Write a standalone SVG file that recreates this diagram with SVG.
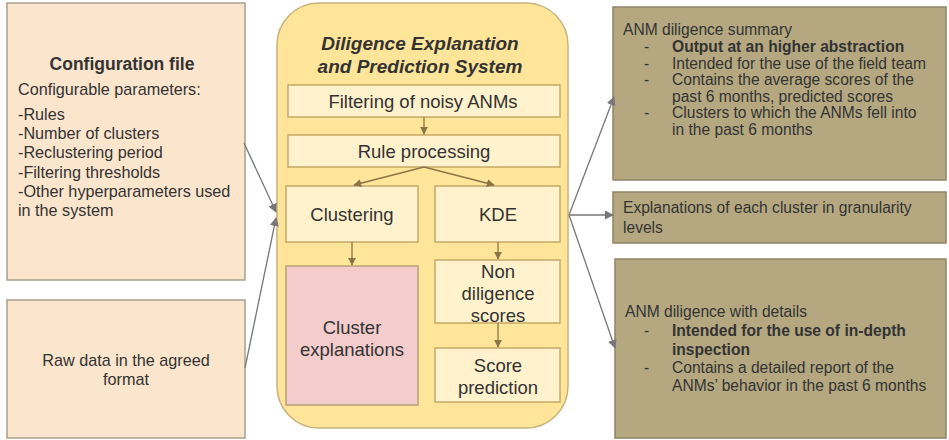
<svg xmlns="http://www.w3.org/2000/svg" width="949" height="440" viewBox="0 0 949 440">
<defs>
<style>
text{font-family:"Liberation Sans",Arial,sans-serif;fill:#333;}
.in{fill:#fce5cd;stroke:#a8a08c;stroke-width:1.5;}
.sys{fill:#ffe599;stroke:#c9b27a;stroke-width:1.5;}
.step{fill:#fff2cc;stroke:#c8a868;stroke-width:1.5;}
.pink{fill:#f4cccc;stroke:#b8a07a;stroke-width:1.5;}
.out{fill:#b5a880;stroke:#8e8466;stroke-width:1.5;}
.tc{font-size:18.5px;}
.tt{font-size:19px;font-weight:bold;font-style:italic;}
.tl{font-size:16.2px;}
.th{font-size:17.5px;font-weight:bold;}
.tr{font-size:15.6px;}
.b{font-weight:bold;}
.c{text-anchor:middle;}
.ca{stroke:#8a7448;stroke-width:1.3;fill:none;marker-end:url(#ah1);}
.oa{stroke:#777;stroke-width:1.3;fill:none;marker-end:url(#ah2);}
</style>
<marker id="ah1" viewBox="0 0 10 10" refX="9" refY="5" markerWidth="8" markerHeight="8" markerUnits="userSpaceOnUse" orient="auto"><path d="M0,0 L10,5 L0,10 z" fill="#8a7448"/></marker>
<marker id="ah2" viewBox="0 0 10 10" refX="9" refY="5" markerWidth="9" markerHeight="9" markerUnits="userSpaceOnUse" orient="auto"><path d="M0,0 L10,5 L0,10 z" fill="#777"/></marker>
</defs>
<rect width="949" height="440" fill="#fff"/>

<g id="config">
<rect class="in" x="7" y="3" width="238" height="277"/>
<text class="th c" x="122" y="70">Configuration file</text>
<text class="tl" x="18" y="95">Configurable parameters:</text>
<text class="tl" x="18" y="120">-Rules</text>
<text class="tl" x="18" y="139">-Number of clusters</text>
<text class="tl" x="18" y="158">-Reclustering period</text>
<text class="tl" x="18" y="178">-Filtering thresholds</text>
<text class="tl" x="18" y="197">-Other hyperparameters used</text>
<text class="tl" x="18" y="216">in the system</text>
</g>

<g id="rawdata">
<rect class="in" x="7" y="300" width="238" height="138"/>
<text class="tl c" x="126" y="366">Raw data in the agreed</text>
<text class="tl c" x="126" y="385">format</text>
</g>

<g id="system">
<rect class="sys" x="277" y="3" width="291" height="425" rx="42"/>
<text class="tt c" x="420" y="50">Diligence Explanation</text>
<text class="tt c" x="420" y="73">and Prediction System</text>
</g>

<g id="filtering">
<rect class="step" x="288" y="85" width="272" height="32"/>
<text class="tc c" x="423" y="108">Filtering of noisy ANMs</text>
</g>
<g id="rule">
<rect class="step" x="288" y="135" width="272" height="32"/>
<text class="tc c" x="424" y="158">Rule processing</text>
</g>
<g id="clustering">
<rect class="step" x="286" y="186" width="132" height="56"/>
<text class="tc c" x="352" y="221">Clustering</text>
</g>
<g id="kde">
<rect class="step" x="435" y="186" width="125" height="56"/>
<text class="tc c" x="498" y="221">KDE</text>
</g>
<g id="clusterexp">
<rect class="pink" x="286" y="266" width="132" height="139"/>
<text class="tc c" x="352" y="334">Cluster</text>
<text class="tc c" x="352" y="356">explanations</text>
</g>
<g id="nondiligence">
<rect class="step" x="435" y="260" width="125" height="63"/>
<text class="tc c" x="498" y="278">Non</text>
<text class="tc c" x="498" y="300">diligence</text>
<text class="tc c" x="498" y="322">scores</text>
</g>
<g id="scorepred">
<rect class="step" x="435" y="348" width="125" height="54"/>
<text class="tc c" x="498" y="372">Score</text>
<text class="tc c" x="498" y="394">prediction</text>
</g>

<g id="summary">
<rect class="out" x="613" y="7" width="333" height="173"/>
<text class="tr" x="623" y="35">ANM diligence summary</text>
<text class="tr" x="644" y="52">-</text><text class="tr b" x="672" y="52">Output at an higher abstraction</text>
<text class="tr" x="644" y="68.5">-</text><text class="tr" x="672" y="68.5">Intended for the use of the field team</text>
<text class="tr" x="644" y="85">-</text><text class="tr" x="672" y="85">Contains the average scores of the</text>
<text class="tr" x="672" y="101.5">past 6 months, predicted scores</text>
<text class="tr" x="644" y="118">-</text><text class="tr" x="672" y="118">Clusters to which  the ANMs fell into</text>
<text class="tr" x="672" y="134.5">in the past 6 months</text>
</g>

<g id="explanations">
<rect class="out" x="613" y="192" width="333" height="51"/>
<text class="tr" x="623" y="213">Explanations of each cluster in granularity</text>
<text class="tr" x="623" y="233">levels</text>
</g>

<g id="details">
<rect class="out" x="615" y="259" width="331" height="179"/>
<text class="tr" x="625" y="317">ANM diligence with details</text>
<text class="tr" x="644" y="336">-</text><text class="tr b" x="672" y="336">Intended for the use of in-depth</text>
<text class="tr b" x="672" y="355">inspection</text>
<text class="tr" x="644" y="373">-</text><text class="tr" x="672" y="373">Contains a detailed report of the</text>
<text class="tr" x="672" y="391">ANMs’ behavior in the past 6 months</text>
</g>

<g id="connectors">
<line class="ca" x1="424" y1="117" x2="424" y2="134"/>
<line class="ca" x1="424" y1="167" x2="354" y2="185"/>
<line class="ca" x1="424" y1="167" x2="494" y2="185"/>
<line class="ca" x1="352" y1="242" x2="352" y2="265"/>
<line class="ca" x1="498" y1="242" x2="498" y2="259"/>
<line class="ca" x1="498" y1="323" x2="498" y2="347"/>
<line class="oa" x1="244" y1="143" x2="276" y2="212"/>
<line class="oa" x1="245" y1="368" x2="276" y2="218"/>
<line class="oa" x1="569" y1="215" x2="614" y2="97"/>
<line class="oa" x1="569" y1="215" x2="613" y2="215"/>
<line class="oa" x1="569" y1="215" x2="615" y2="348"/>
</g>
</svg>
